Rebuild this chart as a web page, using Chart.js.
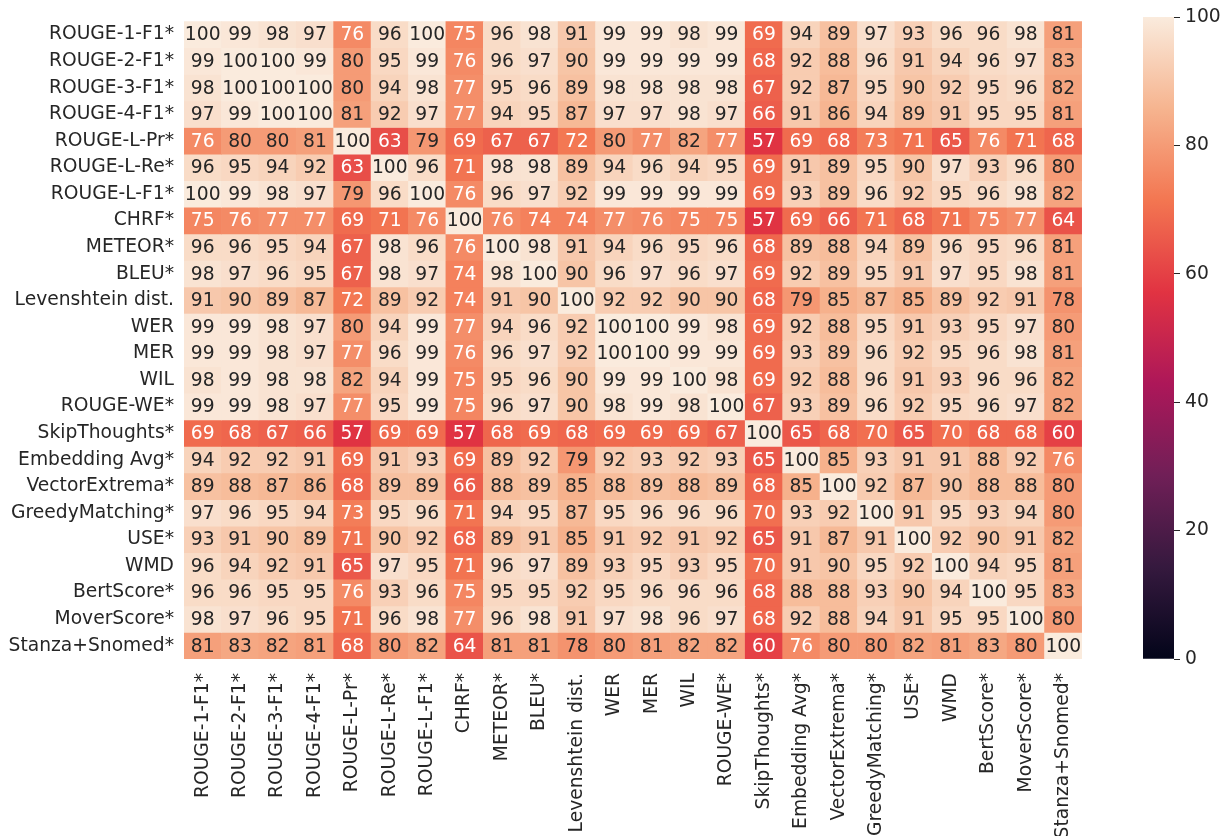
<!DOCTYPE html>
<html>
<head>
<meta charset="utf-8">
<script src="https://cdn.jsdelivr.net/npm/chart.js@4.4.0/dist/chart.umd.min.js"></script>
<style>
  body { margin: 0; background: #fff; width: 1231px; height: 836px; overflow: hidden; position: relative; }
  #heat { position: absolute; left: 0; top: 0; }
  #cbar { position: absolute; left: 1100px; top: 0; }
</style>
</head>
<body>
<canvas id="heat" width="1100" height="836"></canvas>
<canvas id="cbar" width="131" height="836"></canvas>
<script>
// metric names (rows and columns are the same)
const metrics = [
    "ROUGE-1-F1*", "ROUGE-2-F1*", "ROUGE-3-F1*", "ROUGE-4-F1*", "ROUGE-L-Pr*", "ROUGE-L-Re*",
    "ROUGE-L-F1*", "CHRF*", "METEOR*", "BLEU*", "Levenshtein dist.", "WER", "MER", "WIL",
    "ROUGE-WE*", "SkipThoughts*", "Embedding Avg*", "VectorExtrema*", "GreedyMatching*",
    "USE*", "WMD", "BertScore*", "MoverScore*", "Stanza+Snomed*"
];

// correlation scores, one row per metric
const scores = [
    [100, 99, 98, 97, 76, 96, 100, 75, 96, 98, 91, 99, 99, 98, 99, 69, 94, 89, 97, 93, 96, 96, 98, 81],
    [99, 100, 100, 99, 80, 95, 99, 76, 96, 97, 90, 99, 99, 99, 99, 68, 92, 88, 96, 91, 94, 96, 97, 83],
    [98, 100, 100, 100, 80, 94, 98, 77, 95, 96, 89, 98, 98, 98, 98, 67, 92, 87, 95, 90, 92, 95, 96, 82],
    [97, 99, 100, 100, 81, 92, 97, 77, 94, 95, 87, 97, 97, 98, 97, 66, 91, 86, 94, 89, 91, 95, 95, 81],
    [76, 80, 80, 81, 100, 63, 79, 69, 67, 67, 72, 80, 77, 82, 77, 57, 69, 68, 73, 71, 65, 76, 71, 68],
    [96, 95, 94, 92, 63, 100, 96, 71, 98, 98, 89, 94, 96, 94, 95, 69, 91, 89, 95, 90, 97, 93, 96, 80],
    [100, 99, 98, 97, 79, 96, 100, 76, 96, 97, 92, 99, 99, 99, 99, 69, 93, 89, 96, 92, 95, 96, 98, 82],
    [75, 76, 77, 77, 69, 71, 76, 100, 76, 74, 74, 77, 76, 75, 75, 57, 69, 66, 71, 68, 71, 75, 77, 64],
    [96, 96, 95, 94, 67, 98, 96, 76, 100, 98, 91, 94, 96, 95, 96, 68, 89, 88, 94, 89, 96, 95, 96, 81],
    [98, 97, 96, 95, 67, 98, 97, 74, 98, 100, 90, 96, 97, 96, 97, 69, 92, 89, 95, 91, 97, 95, 98, 81],
    [91, 90, 89, 87, 72, 89, 92, 74, 91, 90, 100, 92, 92, 90, 90, 68, 79, 85, 87, 85, 89, 92, 91, 78],
    [99, 99, 98, 97, 80, 94, 99, 77, 94, 96, 92, 100, 100, 99, 98, 69, 92, 88, 95, 91, 93, 95, 97, 80],
    [99, 99, 98, 97, 77, 96, 99, 76, 96, 97, 92, 100, 100, 99, 99, 69, 93, 89, 96, 92, 95, 96, 98, 81],
    [98, 99, 98, 98, 82, 94, 99, 75, 95, 96, 90, 99, 99, 100, 98, 69, 92, 88, 96, 91, 93, 96, 96, 82],
    [99, 99, 98, 97, 77, 95, 99, 75, 96, 97, 90, 98, 99, 98, 100, 67, 93, 89, 96, 92, 95, 96, 97, 82],
    [69, 68, 67, 66, 57, 69, 69, 57, 68, 69, 68, 69, 69, 69, 67, 100, 65, 68, 70, 65, 70, 68, 68, 60],
    [94, 92, 92, 91, 69, 91, 93, 69, 89, 92, 79, 92, 93, 92, 93, 65, 100, 85, 93, 91, 91, 88, 92, 76],
    [89, 88, 87, 86, 68, 89, 89, 66, 88, 89, 85, 88, 89, 88, 89, 68, 85, 100, 92, 87, 90, 88, 88, 80],
    [97, 96, 95, 94, 73, 95, 96, 71, 94, 95, 87, 95, 96, 96, 96, 70, 93, 92, 100, 91, 95, 93, 94, 80],
    [93, 91, 90, 89, 71, 90, 92, 68, 89, 91, 85, 91, 92, 91, 92, 65, 91, 87, 91, 100, 92, 90, 91, 82],
    [96, 94, 92, 91, 65, 97, 95, 71, 96, 97, 89, 93, 95, 93, 95, 70, 91, 90, 95, 92, 100, 94, 95, 81],
    [96, 96, 95, 95, 76, 93, 96, 75, 95, 95, 92, 95, 96, 96, 96, 68, 88, 88, 93, 90, 94, 100, 95, 83],
    [98, 97, 96, 95, 71, 96, 98, 77, 96, 98, 91, 97, 98, 96, 97, 68, 92, 88, 94, 91, 95, 95, 100, 80],
    [81, 83, 82, 81, 68, 80, 82, 64, 81, 81, 78, 80, 81, 82, 82, 60, 76, 80, 80, 82, 81, 83, 80, 100]
];

const cbarTicks = [0, 20, 40, 60, 80, 100];

// approximate "rocket" colormap
const rocketStops = [
    [0, "#03051a"], [1 / 7, "#35193e"], [2 / 7, "#701f57"], [3 / 7, "#ad1759"],
    [4 / 7, "#e13342"], [5 / 7, "#f37651"], [6 / 7, "#f6b48f"], [1, "#faebdd"]
];

function hexRgb(h) {
    return [parseInt(h.slice(1, 3), 16), parseInt(h.slice(3, 5), 16), parseInt(h.slice(5, 7), 16)];
}

function rocket(t) {
    for (let i = 1; i < rocketStops.length; i++) {
        const [p1, c1] = rocketStops[i];
        const [p0, c0] = rocketStops[i - 1];
        if (t <= p1) {
            const f = (t - p0) / (p1 - p0);
            const a = hexRgb(c0), b = hexRgb(c1);
            const rgb = a.map((v, k) => Math.round(v + (b[k] - v) * f));
            return `rgb(${rgb.join(",")})`;
        }
    }
    return rocketStops[rocketStops.length - 1][1];
}

const textColor = "#262626";
const font = { family: "DejaVu Sans", size: 18.7 };
Chart.defaults.font.family = font.family;
Chart.defaults.font.size = font.size;
Chart.defaults.color = textColor;

// one stacked dataset per row
const datasets = scores.map((row, r) => ({
    label: metrics[r],
    data: row.map((v, c) => ({ x: metrics[c], y: 1, v: v })),
    backgroundColor: ctx => rocket(ctx.raw.v / 100),
    borderWidth: 0,
    barPercentage: 1,
    categoryPercentage: 1,
    stack: "cells"
}));

// write the value in each cell
const cellText = {
    id: "cellText",
    afterDatasetsDraw(chart) {
        const ctx = chart.ctx;
        ctx.save();
        ctx.font = `${font.size}px "${font.family}"`;
        ctx.textAlign = "center";
        ctx.textBaseline = "middle";
        chart.data.datasets.forEach((ds, r) => {
            chart.getDatasetMeta(r).data.forEach((bar, c) => {
                const v = ds.data[c].v;
                ctx.fillStyle = v >= 78 ? textColor : "#ffffff";
                ctx.fillText(String(v), bar.x, (bar.y + bar.base) / 2 + 1);
            });
        });
        ctx.restore();
    }
};

new Chart(document.getElementById("heat"), {
    type: "bar",
    data: { labels: metrics, datasets: datasets },
    plugins: [cellText],
    options: {
        responsive: false,
        animation: false,
        layout: { padding: { left: 0, top: 17, right: 14, bottom: 0 } },
        plugins: { legend: { display: false }, tooltip: { enabled: false } },
        scales: {
            x: {
                type: "category",
                stacked: true,
                grid: { display: false, drawTicks: false },
                border: { display: false },
                ticks: { autoSkip: false, minRotation: 90, maxRotation: 90, padding: 14 },
                afterFit: s => { s.height = 177; }
            },
            y: {
                type: "linear",
                stacked: true,
                reverse: true,
                min: 0,
                max: metrics.length,
                grid: { display: false, drawTicks: false },
                border: { display: false },
                afterBuildTicks: s => { s.ticks = metrics.map((m, i) => ({ value: i + 0.5 })); },
                ticks: { autoSkip: false, padding: 10, callback: (v, i) => metrics[i] },
                afterFit: s => { s.width = 184; }
            }
        }
    }
});

// colour bar
new Chart(document.getElementById("cbar"), {
    type: "bar",
    data: {
        labels: [""],
        datasets: [{
            data: [cbarTicks[cbarTicks.length - 1]],
            backgroundColor: ctx => {
                const a = ctx.chart.chartArea;
                if (!a) return null;
                const g = ctx.chart.ctx.createLinearGradient(0, a.bottom, 0, a.top);
                rocketStops.forEach(([p, c]) => g.addColorStop(p, c));
                return g;
            },
            borderWidth: 0,
            barPercentage: 1,
            categoryPercentage: 1
        }]
    },
    options: {
        responsive: false,
        animation: false,
        layout: { padding: { left: 43, top: 17, right: 0, bottom: 177 } },
        plugins: { legend: { display: false }, tooltip: { enabled: false } },
        scales: {
            x: { display: false },
            y: {
                position: "right",
                min: 0,
                max: 100,
                grid: { drawOnChartArea: false, drawTicks: true, tickLength: 6, color: textColor },
                border: { display: false },
                afterBuildTicks: s => { s.ticks = cbarTicks.map(v => ({ value: v })); },
                ticks: { padding: 5 },
                afterFit: s => { s.width = 57; }
            }
        }
    }
});
</script>
</body>
</html>
